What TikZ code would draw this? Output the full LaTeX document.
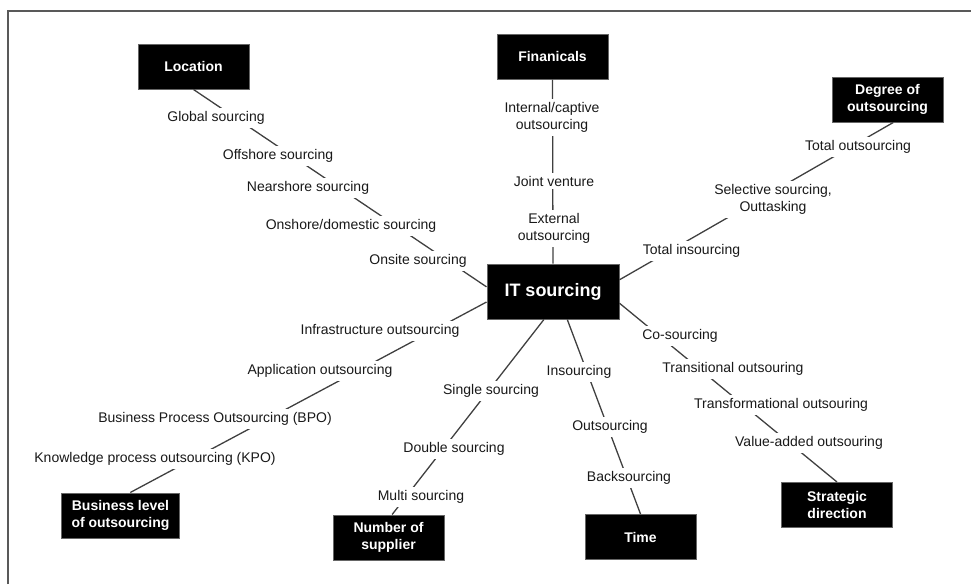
\documentclass[tikz,border=0pt]{standalone}
\usepackage{fontspec}
\setmainfont{Liberation Sans}
\begin{document}
\begin{tikzpicture}[x=1pt,y=-1pt,
  cat/.style={draw=black!60, line width=1pt, fill=black, text=white,
    font=\fontsize{14}{17}\selectfont\bfseries, align=center,
    minimum width=111pt, minimum height=45pt, inner xsep=10pt, inner ysep=2pt},
  hub/.style={cat, minimum width=132pt, minimum height=55pt,
    font=\fontsize{18}{21}\selectfont\bfseries},
  lbl/.style={fill=white, text=black!90, font=\fontsize{14}{17}\selectfont,
    align=center, inner sep=3pt, yshift=-2pt},
  link/.style={draw=black!75, line width=1.3pt}]
\useasboundingbox (0,0) rectangle (971,584);
\draw[black!65, line width=1.5pt] (8,584) -- (8,11) -- (971,11);

% central topic and the eight dimensions
\node[hub] (it)  at (553,291.5) {IT sourcing};
\node[cat] (loc) at (193.5,66.5) {Location};
\node[cat] (fin) at (552.5,56.5) {Finanicals};
\node[cat] (deg) at (887.5,99.5) {Degree of\\outsourcing};
\node[cat] (bus) at (120.5,515.5) {Business level\\of outsourcing};
\node[cat] (num) at (388.5,537.5) {Number of\\supplier};
\node[cat] (tim) at (640.5,537) {Time};
\node[cat] (str) at (837,505) {Strategic\\direction};

% spokes
\draw[link] (loc.south) -- (it.176);
\draw[link] (fin.south) -- (it.north);
\draw[link] (deg.284) -- (it.10.7);
\draw[link] (bus.67) -- (it.189);
\draw[link] (num.81) -- (it.252);
\draw[link] (it.297) -- (tim.north);
\draw[link] (it.350) -- (str.north);

% location
\node[lbl] (l1) at (216,116) {Global sourcing};
\node[lbl] (l2) at (278,154) {Offshore sourcing};
\node[lbl] (l3) at (308,186) {Nearshore sourcing};
\node[lbl] (l4) at (351,224) {Onshore/domestic sourcing};
\node[lbl] (l5) at (418,259) {Onsite sourcing};

% financials
\node[lbl] (f1) at (552,115.5) {Internal/captive\\outsourcing};
\node[lbl] (f2) at (554,179) {Joint venture};
\node[lbl] (f3) at (554,226.5) {External\\outsourcing};

% degree of outsourcing
\node[lbl] (d1) at (858,145) {Total outsourcing};
\node[lbl] (d2) at (773,197.5) {Selective sourcing,\\Outtasking};
\node[lbl] (d3) at (691.5,249) {Total insourcing};

% business level
\node[lbl] (b1) at (380,329) {Infrastructure outsourcing};
\node[lbl] (b2) at (320,369) {Application outsourcing};
\node[lbl] (b3) at (215,417) {Business Process Outsourcing (BPO)};
\node[lbl] (b4) at (155,457) {Knowledge process outsourcing (KPO)};

% number of suppliers
\node[lbl] (n1) at (491,389) {Single sourcing};
\node[lbl] (n2) at (454,447) {Double sourcing};
\node[lbl] (n3) at (421,495) {Multi sourcing};

% time
\node[lbl] (t1) at (579,370) {Insourcing};
\node[lbl] (t2) at (610,425) {Outsourcing};
\node[lbl] (t3) at (629,476) {Backsourcing};

% strategic direction
\node[lbl] (s1) at (680,334) {Co-sourcing};
\node[lbl] (s2) at (733,367) {Transitional outsouring};
\node[lbl] (s3) at (781,403) {Transformational outsouring};
\node[lbl] (s4) at (809,441) {Value-added outsouring};
\end{tikzpicture}
\end{document}
